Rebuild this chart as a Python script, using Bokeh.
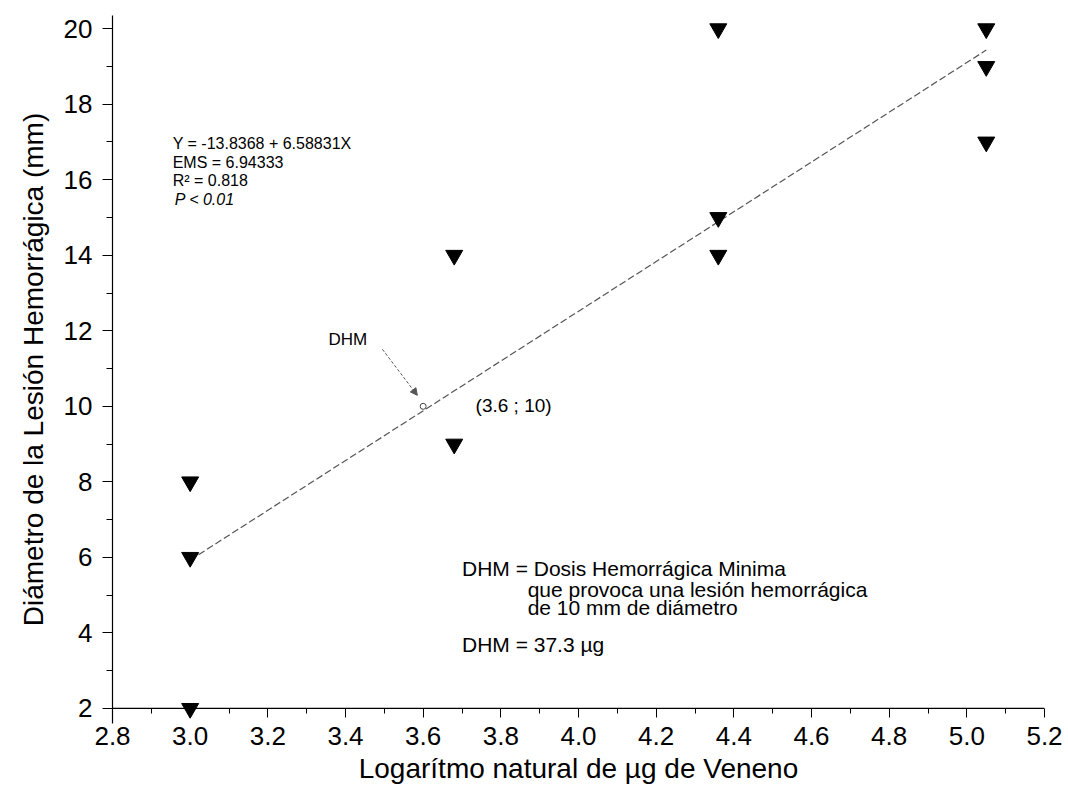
from bokeh.plotting import figure
from bokeh.models import (ColumnDataSource, FixedTicker, Range1d, Label, Arrow,
                          NormalHead, PrintfTickFormatter, Span)
from bokeh.embed import file_html
from bokeh.resources import INLINE

# ---- data ----
log_veneno = [3.0, 3.0, 3.0, 3.68, 3.68, 4.36, 4.36, 4.36, 5.05, 5.05, 5.05]
diametro = [8, 6, 2, 14, 9, 20, 15, 14, 20, 19, 17]
intercepto = -13.8368
pendiente = 6.58831
dhm_x = [3.6]
dhm_y = [10]
x_ticks = [2.8, 3.0, 3.2, 3.4, 3.6, 3.8, 4.0, 4.2, 4.4, 4.6, 4.8, 5.0, 5.2]
y_ticks = [2, 4, 6, 8, 10, 12, 14, 16, 18, 20]

FONT = "Liberation Sans"

p = figure(width=1068, height=795, output_backend="svg", toolbar_location=None,
           x_range=Range1d(2.8, 5.2), y_range=Range1d(1.6, 20.35),
           min_border_left=112, min_border_right=24, min_border_top=15,
           min_border_bottom=72)
p.outline_line_color = None
p.grid.visible = False
p.background_fill_color = "white"
p.border_fill_color = "white"

for ax in (p.xaxis[0], p.yaxis[0]):
    ax.axis_line_color = "black"
    ax.axis_line_width = 1.2
    ax.major_tick_line_color = "black"
    ax.minor_tick_line_color = "black"
    ax.major_tick_in = 0
    ax.major_tick_out = 10
    ax.minor_tick_in = 0
    ax.minor_tick_out = 6
    ax.major_label_text_font = FONT
    ax.major_label_text_font_size = "26px"
    ax.major_label_text_color = "black"
    ax.axis_label_text_font = FONT
    ax.axis_label_text_font_size = "28px"
    ax.axis_label_text_font_style = "normal"
    ax.axis_label_text_color = "black"

xa = p.xaxis[0]
minor_x = [round(2.9 + 0.2 * i, 2) for i in range(12)]
xa.ticker = FixedTicker(ticks=x_ticks, minor_ticks=minor_x)
xa.formatter = PrintfTickFormatter(format="%.1f")
# x axis line is drawn at y = 2 (a Span); ticks hang from it
xa.axis_line_color = None
xa.major_tick_in = 15
xa.major_tick_out = -6
xa.minor_tick_in = 15
xa.minor_tick_out = -10
xa.major_label_standoff = 9
xa.axis_label = "Logarítmo natural de µg de Veneno"
xa.axis_label_standoff = 5
p.add_layout(Span(location=y_ticks[0], dimension="width", line_color="black", line_width=1.2))

ya = p.yaxis[0]
ya.ticker = FixedTicker(ticks=y_ticks, minor_ticks=[3, 5, 7, 9, 11, 13, 15, 17, 19])
ya.axis_label = "Diámetro de la Lesión Hemorrágica (mm)"
ya.major_label_standoff = 10
ya.axis_label_standoff = 12

# regression line
xs = [min(log_veneno), max(log_veneno)]
ys = [intercepto + pendiente * x for x in xs]
p.line(xs, ys, line_color="#555555", line_width=1.2, line_dash="7 3")

# data points
src = ColumnDataSource(dict(x=log_veneno, y=diametro))
p.scatter("x", "y", source=src, marker="inverted_triangle", size=17,
          fill_color="black", line_color="black")

# DHM point
p.scatter(dhm_x, dhm_y, marker="circle", size=6, fill_color="white",
          line_color="#444444", line_width=1)

# equation text
eq_lines = ["Y = -13.8368 + 6.58831X", "EMS = 6.94333", "R² = 0.818"]
eq_y = [16.96, 16.46, 15.98]
for t, yy in zip(eq_lines, eq_y):
    p.add_layout(Label(x=2.955, y=yy, text=t, text_font=FONT,
                       text_font_size="16px", text_baseline="middle",
                       text_color="black"))
p.add_layout(Label(x=2.96, y=15.47, text="P < 0.01", text_font=FONT,
                   text_font_size="16px", text_font_style="italic",
                   text_baseline="middle", text_color="black"))

# DHM annotation
p.add_layout(Label(x=3.356, y=11.77, text="DHM", text_font=FONT, text_font_size="17px",
                   text_baseline="middle", text_color="black"))
p.add_layout(Arrow(x_start=3.495, y_start=11.51, x_end=3.585, y_end=10.29,
                   line_color="#555555", line_width=1, line_dash="3 2",
                   end=NormalHead(size=7, fill_color="#555555", line_color="#555555")))
p.add_layout(Label(x=3.735, y=10.03, text="(3.6 ; 10)", text_font=FONT,
                   text_font_size="19px", text_baseline="middle", text_color="black"))

# definition text
p.add_layout(Label(x=3.70, y=5.71, text="DHM = Dosis Hemorrágica Minima", text_font=FONT,
                   text_font_size="21px", text_baseline="middle", text_color="black"))
p.add_layout(Label(x=3.869, y=5.16, text="que provoca una lesión hemorrágica", text_font=FONT,
                   text_font_size="21px", text_baseline="middle", text_color="black"))
p.add_layout(Label(x=3.869, y=4.66, text="de 10 mm de diámetro", text_font=FONT,
                   text_font_size="21px", text_baseline="middle", text_color="black"))
p.add_layout(Label(x=3.70, y=3.68, text="DHM = 37.3 µg", text_font=FONT,
                   text_font_size="21px", text_baseline="middle", text_color="black"))

open("out.html", "w").write(file_html(p, INLINE))
